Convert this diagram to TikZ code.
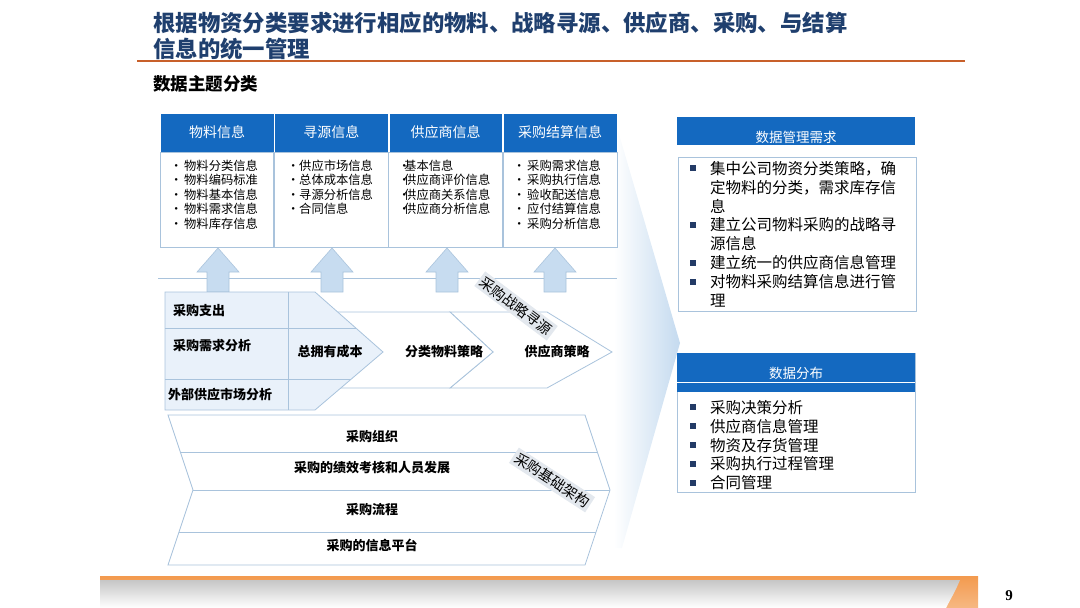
\documentclass[tikz,border=0pt]{standalone}
\usepackage{fontspec}
\setmainfont{Noto Sans CJK SC}
\newfontfamily\numfont{Liberation Serif}
\usepackage{tikz}
\usetikzlibrary{positioning,calc}
\definecolor{uttl}{HTML}{1F3F6E}
\definecolor{uhdr}{HTML}{1469C0}
\definecolor{ubrd}{HTML}{A9C3DC}
\definecolor{ulit}{HTML}{E9F1FA}
\definecolor{uarr}{HTML}{C7DCF0}
\definecolor{usq}{HTML}{233B66}
\definecolor{ulab}{HTML}{E3E8EE}
\definecolor{uorg}{HTML}{C8602A}
\definecolor{ufnl}{HTML}{C4DAEF}
\definecolor{ugry}{HTML}{C6C6C6}
\definecolor{ufoot}{HTML}{F39A4E}
\newcommand{\sqb}{\llap{\textcolor{usq}{\rule[3pt]{6pt}{6pt}}\hspace{14pt}}}
\newcommand{\dotb}[1]{\makebox[#1][l]{•}}
\tikzset{
  hbox/.style  ={fill=uhdr, draw=white, line width=0.6pt, text=white, inner sep=0pt,
                 minimum width=113.75pt, minimum height=39pt, font=\fontsize{14}{16}\selectfont},
  bbox/.style  ={fill=white, draw=ubrd, line width=0.8pt, inner sep=0pt,
                 minimum width=113.75pt, minimum height=95pt},
  lst/.style   ={anchor=north west, inner sep=0pt, align=left, font=\fontsize{12.3}{14.6}\selectfont},
  chv/.style   ={draw=ubrd, line width=0.8pt, fill=white},
  sep/.style   ={draw=ubrd, line width=0.8pt},
  ctxt/.style  ={inner sep=0pt, font=\bfseries\fontsize{13}{15}\selectfont},
  rlab/.style  ={fill=ulab, inner sep=2.5pt, font=\fontsize{14.3}{16}\selectfont},
  upar/.style  ={draw=ubrd, fill=uarr, line width=0.6pt},
  rlst/.style  ={anchor=north west, inner sep=0pt, align=left, font=\fontsize{15.5}{18.9}\selectfont},
}
\begin{document}
\begin{tikzpicture}[x=1pt, y=-1pt]
  \useasboundingbox (0,0) rectangle (1080,608);
  % title
  \node[anchor=north west, inner sep=0pt, align=left, text=uttl,
        font=\bfseries\fontsize{22.4}{26}\selectfont] (title) at (153,12)
       {根据物资分类要求进行相应的物料、战略寻源、供应商、采购、与结算\\信息的统一管理};
  \draw[uorg, line width=2pt] (137,61) -- (965,61);
  \node[anchor=west, inner sep=0pt, font=\bfseries\fontsize{17.5}{20}\selectfont] (sub) at (153,84) {数据主题分类};

  % funnel
  \shade[left color=white, right color=ufnl] (614,117) -- (680,343) -- (622,548) -- (614,548) -- cycle;

  % table
  \node[hbox] (h1) at (217,132.5) {物料信息};
  \node[hbox, right=0pt of h1] (h2) {寻源信息};
  \node[hbox, right=0pt of h2] (h3) {供应商信息};
  \node[hbox, right=0pt of h3] (h4) {采购结算信息};
  \node[bbox, below=0pt of h1] (b1) {};
  \node[bbox, below=0pt of h2] (b2) {};
  \node[bbox, below=0pt of h3] (b3) {};
  \node[bbox, below=0pt of h4] (b4) {};
  \node[lst] (l1) at (170,159.5) {\dotb{14pt}物料分类信息\\\dotb{14pt}物料编码标准\\\dotb{14pt}物料基本信息\\\dotb{14pt}物料需求信息\\\dotb{14pt}物料库存信息};
  \node[lst] (l2) at (287,159.5) {\dotb{12pt}供应市场信息\\\dotb{12pt}总体成本信息\\\dotb{12pt}寻源分析信息\\\dotb{12pt}合同信息};
  \node[lst] (l3) at (398,159.5) {\dotb{6pt}基本信息\\\dotb{6pt}供应商评价信息\\\dotb{6pt}供应商关系信息\\\dotb{6pt}供应商分析信息};
  \node[lst] (l4) at (513,159.5) {\dotb{14pt}采购需求信息\\\dotb{14pt}采购执行信息\\\dotb{14pt}验收配送信息\\\dotb{14pt}应付结算信息\\\dotb{14pt}采购分析信息};

  % up arrows
  \draw[sep] (158,278) -- (617,278);
  \foreach \cx in {218,332,447,555}
    \draw[upar] (\cx-11,292) -- (\cx-11,272) -- (\cx-21,272) -- (\cx,248)
                -- (\cx+21,272) -- (\cx+11,272) -- (\cx+11,292) -- cycle;

  % strategic sourcing chevrons
  \draw[chv] (450,312) -- (547,312) -- (612,352) -- (547,388) -- (450,388) -- (493,352) -- cycle;
  \draw[chv] (300,312) -- (450,312) -- (493,352) -- (450,388) -- (300,388) -- cycle;
  \draw[chv, fill=ulit] (165,292) -- (315,292) -- (383,352) -- (315,410) -- (165,410) -- cycle;
  \draw[sep] (165,328) -- (356,328);
  \draw[sep] (165,379) -- (351,379);
  \draw[sep] (288,292) -- (288,410);
  \node[ctxt, anchor=west] (c1) at (173,311) {采购支出};
  \node[ctxt, anchor=west] (c2) at (173,346) {采购需求分析};
  \node[ctxt, anchor=west] (c3) at (168,395) {外部供应市场分析};
  \node[ctxt] (tco) at (330,352) {总拥有成本};
  \node[ctxt] (cat) at (444,352) {分类物料策略};
  \node[ctxt] (sup) at (557,352) {供应商策略};
  \node[rlab, rotate=-37] (src) at (516,306) {采购战略寻源};

  % infrastructure chevron
  \draw[chv] (168,415) -- (585,415) -- (610,490) -- (585,565) -- (168,565) -- (193,490) -- cycle;
  \draw[sep] (180,452) -- (597,452);
  \draw[sep] (193,490) -- (610,490);
  \draw[sep] (179,532) -- (596,532);
  \node[ctxt] (org) at (372,437) {采购组织};
  \node[ctxt] (kpi) at (372,468) {采购的绩效考核和人员发展};
  \node[ctxt] (prc) at (372,510) {采购流程};
  \node[ctxt] (itp) at (372,545) {采购的信息平台};
  \node[rlab, rotate=-33] (inf) at (552,480) {采购基础架构};

  % data management needs
  \node[fill=uhdr, minimum width=238pt, minimum height=28pt, inner sep=0pt, text=white,
        text height=22pt, text depth=0pt, font=\fontsize{13.5}{16}\selectfont] (nh) at (796,131) {数据管理需求};
  \node[draw=ubrd, line width=0.8pt, minimum width=238pt, minimum height=154pt, inner sep=0pt] (nb) at (797,234) {};
  \node[rlst] (nl) at (710,161) {\sqb 集中公司物资分类策略，确\\定物料的分类，需求库存信\\息\\\sqb 建立公司物料采购的战略寻\\源信息\\\sqb 建立统一的供应商信息管理\\\sqb 对物料采购结算信息进行管\\理};

  % data distribution
  \node[draw=ubrd, line width=0.8pt, minimum width=238pt, minimum height=139pt, inner sep=0pt] (db) at (796,422.5) {};
  \node[fill=uhdr, minimum width=238pt, minimum height=39pt, inner sep=0pt] (dh) at (796,372.5) {};
  \draw[white, line width=1pt] (dh.west |- 0,382.5) -- (dh.east |- 0,382.5);
  \node[text=white, font=\fontsize{13.5}{16}\selectfont] (dt) at (796,373) {数据分布};
  \node[rlst] (dl) at (710,400) {\sqb 采购决策分析\\\sqb 供应商信息管理\\\sqb 物资及存货管理\\\sqb 采购执行过程管理\\\sqb 合同管理};

  % footer
  \shade[top color=ufoot, bottom color=ufoot!70!white] (100,576) -- (978,576) -- (978,608) -- (100,608) -- cycle;
  \shade[top color=ugry, bottom color=white] (100,580) -- (960,580) .. controls (955,592) and (950,600) .. (946,608) -- (100,608) -- cycle;
  \node[font=\numfont\bfseries\fontsize{15}{17}\selectfont] (pg) at (1009,596) {9};
\end{tikzpicture}
\end{document}
